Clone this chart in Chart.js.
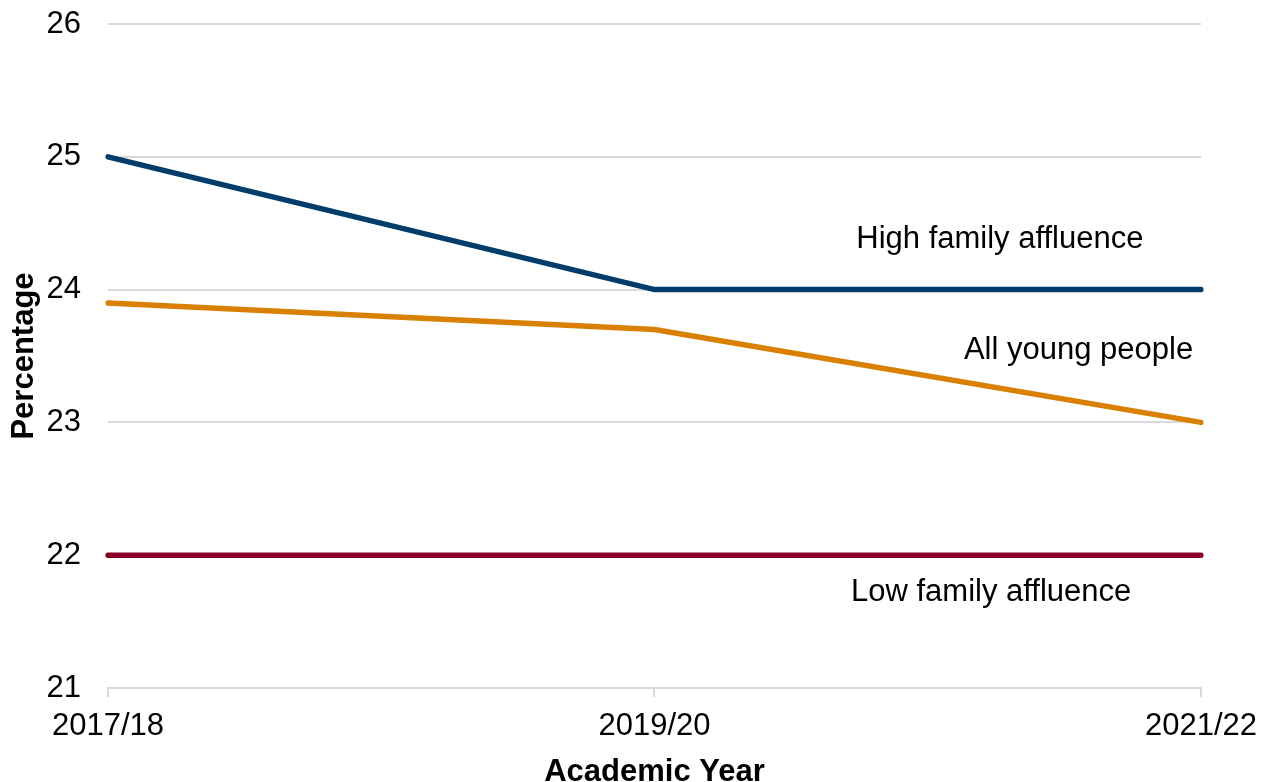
<!DOCTYPE html>
<html>
<head>
<meta charset="utf-8">
<script src="https://cdn.jsdelivr.net/npm/chart.js@4/dist/chart.umd.min.js"></script>
<style>
  body { margin: 0; background: #fff; }
  #wrap { width: 1268px; height: 782px; }
</style>
</head>
<body>
<div id="wrap"><canvas id="chart" width="1268" height="782"></canvas></div>
<script>
/* global Chart */

const years = ['2017/18', '2019/20', '2021/22']
const highAffluence = [25, 24, 24]
const allYoungPeople = [23.9, 23.7, 23]
const lowAffluence = [22, 22, 22]

const FONT = 'Liberation Sans, Arial, sans-serif'
const SIZE = 31

// series names written beside each line (x as fraction of the axis, y in data units)
const lineLabels = [
  { text: 'High family affluence', x: 0.816, y: 24.38 },
  { text: 'All young people', x: 0.888, y: 23.545 },
  { text: 'Low family affluence', x: 0.808, y: 21.72 }
]

const lineLabelPlugin = {
  id: 'lineLabels',
  afterDatasetsDraw (chart) {
    const { ctx, scales } = chart
    ctx.save()
    ctx.font = SIZE + 'px ' + FONT
    ctx.fillStyle = '#000'
    ctx.textAlign = 'center'
    ctx.textBaseline = 'middle'
    lineLabels.forEach(l => {
      ctx.fillText(l.text, scales.x.getPixelForDecimal(l.x), scales.y.getPixelForValue(l.y))
    })
    ctx.restore()
  }
}

function series (data, color) {
  return {
    data,
    borderColor: color,
    backgroundColor: color,
    borderWidth: 5.5,
    borderCapStyle: 'round',
    borderJoinStyle: 'miter',
    pointRadius: 0,
    tension: 0,
    fill: false
  }
}

new Chart(document.getElementById('chart').getContext('2d'), {
  type: 'line',
  data: {
    labels: years,
    datasets: [
      series(lowAffluence, '#8b0024'),
      series(allYoungPeople, '#d98000'),
      series(highAffluence, '#003d6b')
    ]
  },
  options: {
    responsive: false,
    animation: false,
    events: [],
    layout: { padding: { top: 24, right: 66, bottom: 0, left: 0 } },
    plugins: { legend: { display: false }, tooltip: { enabled: false } },
    scales: {
      x: {
        offset: false,
        afterFit: scale => { scale.height = 94 },
        grid: { drawOnChartArea: false, color: '#d9d9d9', tickLength: 9, lineWidth: 2 },
        border: { display: true, color: '#d9d9d9', width: 2 },
        ticks: { color: '#000', font: { family: FONT, size: SIZE }, padding: 11, maxRotation: 0 },
        title: {
          display: true,
          text: 'Academic Year',
          color: '#000',
          font: { family: FONT, size: SIZE, weight: 'bold' },
          padding: { top: 0, bottom: -9 }
        }
      },
      y: {
        min: 21,
        max: 26,
        afterFit: scale => {
          scale.width = 108
          // the tick padding is horizontal here, don't let it push the plot down
          scale.paddingTop = 0
          scale.paddingBottom = 0
        },
        grid: { color: '#d9d9d9', drawTicks: false, lineWidth: 2 },
        border: { display: false },
        ticks: { stepSize: 1, color: '#000', font: { family: FONT, size: SIZE }, padding: 27 },
        title: {
          display: true,
          text: 'Percentage',
          color: '#000',
          font: { family: FONT, size: SIZE, weight: 'bold' },
          padding: { top: 6, bottom: 0 }
        }
      }
    }
  },
  plugins: [lineLabelPlugin]
})
</script>
</body>
</html>
